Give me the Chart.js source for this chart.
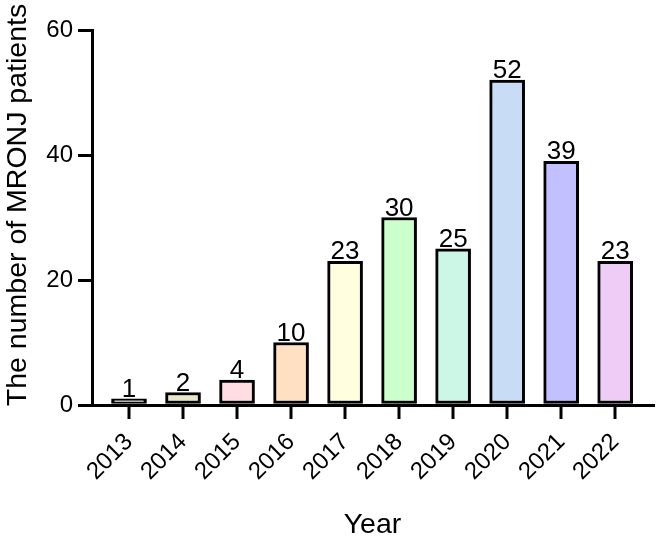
<!DOCTYPE html>
<html>
<head>
<meta charset="utf-8">
<script src="https://cdn.jsdelivr.net/npm/chart.js@4"></script>
<style>
  html, body { margin: 0; padding: 0; background: #fff; }
  #wrap { width: 656px; height: 542px; }
</style>
</head>
<body>
<div id="wrap"><canvas id="c" width="656" height="542"></canvas></div>
<script>
const years = ['2013','2014','2015','2016','2017','2018','2019','2020','2021','2022'];
const patients = [1, 2, 4, 10, 23, 30, 25, 52, 39, 23];
const barColors = ['#ececec','#ebe6c8','#ffdde2','#ffe0c2','#ffffe0','#ccffcc','#ccf7e6','#c8ddf5','#c2c0ff','#eeccf5'];
const yTicks = [0, 20, 40, 60];
const xTitle = 'Year';
const yTitle = 'The number of MRONJ patients';

const FONT = '"Liberation Sans", Arial, sans-serif';

const overlay = {
  id: 'overlay',
  afterDraw(chart) {
    const ctx = chart.ctx;
    const meta = chart.getDatasetMeta(0);
    const ca = chart.chartArea;
    const y0 = chart.scales.y.getPixelForValue(0);
    ctx.save();
    // x tick marks, one under each bar
    ctx.fillStyle = '#000';
    meta.data.forEach((bar) => {
      ctx.fillRect(Math.round(bar.x) - 1.5, y0, 3, 14);
    });
    ctx.font = '26px ' + FONT;
    ctx.textAlign = 'center';
    ctx.textBaseline = 'alphabetic';
    meta.data.forEach((bar, i) => {
      ctx.fillText(String(patients[i]), bar.x, bar.y - 2);
    });
    // axis titles
    ctx.font = '28.5px ' + FONT;
    ctx.textBaseline = 'middle';
    ctx.fillText(xTitle, (ca.left + ca.right) / 2, 525);
    ctx.translate(18, 205);
    ctx.rotate(-Math.PI / 2);
    ctx.fillText(yTitle, 0, 0);
    ctx.restore();
  }
};

new Chart(document.getElementById('c'), {
  type: 'bar',
  data: {
    datasets: [{
      data: patients.map((v, i) => ({ x: i, y: v })),
      backgroundColor: barColors,
      borderColor: '#000',
      borderWidth: 3,
      borderSkipped: false,
      barThickness: 35
    }]
  },
  options: {
    responsive: false,
    animation: false,
    events: [],
    layout: { padding: { top: 30, right: 3, left: 0, bottom: 0 } },
    plugins: { legend: { display: false }, tooltip: { enabled: false } },
    scales: {
      x: {
        type: 'linear',
        min: -0.685,
        max: 9.7,
        offset: false,
        afterFit(s) { s.height = 137; },
        afterBuildTicks(s) { s.ticks = years.map((y, i) => ({ value: i })); },
        ticks: {
          includeBounds: false,
          autoSkip: false,
          minRotation: 45,
          maxRotation: 45,
          color: '#000',
          font: { family: FONT, size: 24 },
          padding: 10,
          callback: (v) => years[v]
        },
        grid: { display: true, offset: false, drawOnChartArea: false, drawTicks: true, tickLength: 13, color: 'rgba(0,0,0,0)', lineWidth: 3 },
        border: { display: true, color: '#000', width: 3 }
      },
      y: {
        min: 0,
        max: 60,
        afterFit(s) { s.width = 92; },
        afterBuildTicks(s) { s.ticks = yTicks.map(v => ({ value: v })); },
        ticks: { color: '#000', font: { family: FONT, size: 24 }, padding: 5 },
        grid: { display: true, offset: false, drawOnChartArea: false, drawTicks: true, tickLength: 14, color: '#000', lineWidth: 3 },
        border: { display: true, color: '#000', width: 3 }
      }
    }
  },
  plugins: [overlay]
});
</script>
</body>
</html>
